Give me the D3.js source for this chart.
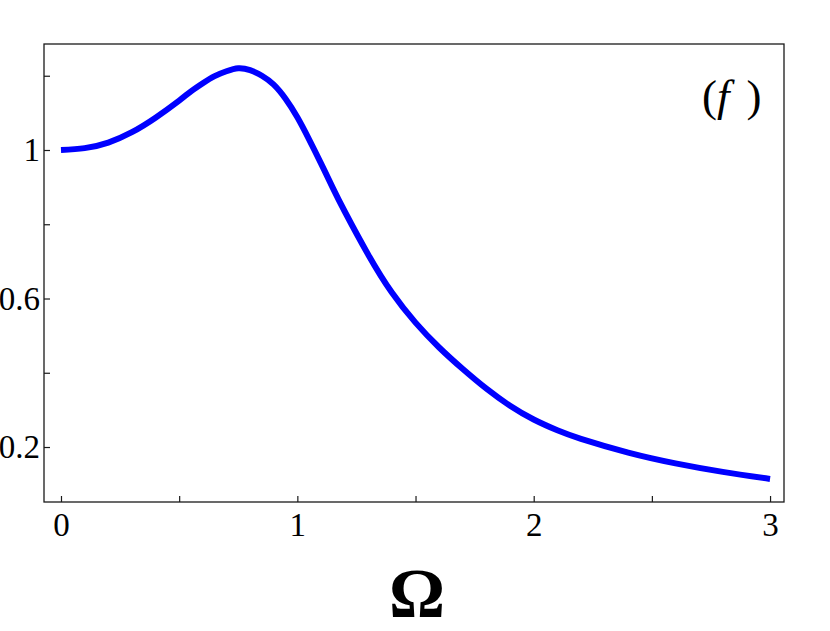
<!DOCTYPE html>
<html>
<head>
<meta charset="utf-8">
<script src="https://cdn.jsdelivr.net/npm/d3@7"></script>
<style>
  body { margin: 0; background: #fff; }
  svg { display: block; }
</style>
</head>
<body>
<svg id="chart" width="830" height="631"></svg>
<script>
// Data
const omega = [0, 0.1, 0.2, 0.3, 0.4, 0.5, 0.55, 0.6, 0.65, 0.7, 0.75, 0.8, 0.85, 0.9, 0.95, 1.0, 1.05, 1.1, 1.15, 1.2, 1.3, 1.4, 1.5, 1.6, 1.7, 1.8, 1.9, 2.0, 2.1, 2.2, 2.4, 2.6, 2.8, 3.0];
const response = [1.000, 1.005, 1.020, 1.048, 1.087, 1.133, 1.158, 1.180, 1.199, 1.212, 1.220, 1.215, 1.200, 1.176, 1.138, 1.088, 1.028, 0.964, 0.898, 0.835, 0.718, 0.616, 0.535, 0.468, 0.410, 0.357, 0.311, 0.274, 0.245, 0.222, 0.185, 0.156, 0.133, 0.114];
const xTicks = [0, 0.5, 1, 1.5, 2, 2.5, 3];
const xTickLabels = ["0", "", "1", "", "2", "", "3"];
const yTicks = [0.2, 0.4, 0.6, 0.8, 1.0, 1.2];
const yTickLabels = ["0.2", "", "0.6", "", "1", ""];
const xLabel = "Ω";
const panelLabel = "f";

const svg = d3.select("#chart");
const mLeft = 44, mRight = 784, mTop = 44, mBottom = 502;

const x = d3.scaleLinear().domain([-0.0719, 3.059]).range([mLeft, mRight]);
const y = d3.scaleLinear().domain([0.0519, 1.2855]).range([mBottom, mTop]);

const serif = "Liberation Serif, Times New Roman, serif";

// curve
const pts = omega.map((o, i) => [o, response[i]]);
svg.append("path")
  .datum(pts)
  .attr("fill", "none")
  .attr("stroke", "#0000ff")
  .attr("stroke-width", 6)
  .attr("d", d3.line().x(d => x(d[0])).y(d => y(d[1])).curve(d3.curveNatural));

// frame
svg.append("rect")
  .attr("x", mLeft).attr("y", mTop)
  .attr("width", mRight - mLeft).attr("height", mBottom - mTop)
  .attr("fill", "none").attr("stroke", "#1a1a1a").attr("stroke-width", 1.3);

// x axis
const xAxis = d3.axisBottom(x).tickValues(xTicks)
  .tickSize(-6).tickPadding(11)
  .tickFormat((d, i) => xTickLabels[i]);
const gx = svg.append("g").attr("transform", `translate(0,${mBottom})`).call(xAxis);
gx.select(".domain").remove();
gx.selectAll(".tick line").attr("stroke", "#1a1a1a").attr("stroke-width", 1.2);
gx.selectAll(".tick text").attr("font-family", serif).attr("font-size", 33).attr("fill", "#000");

// y axis
const yAxis = d3.axisLeft(y).tickValues(yTicks)
  .tickSize(-6).tickPadding(4)
  .tickFormat((d, i) => yTickLabels[i]);
const gy = svg.append("g").attr("transform", `translate(${mLeft},0)`).call(yAxis);
gy.select(".domain").remove();
gy.selectAll(".tick line").attr("stroke", "#1a1a1a").attr("stroke-width", 1.2);
gy.selectAll(".tick text").attr("font-family", serif).attr("font-size", 33).attr("fill", "#000");

// x label
svg.append("text")
  .attr("x", 417).attr("y", 617)
  .attr("text-anchor", "middle")
  .attr("font-family", serif).attr("font-weight", "bold")
  .attr("font-size", 70)
  .text(xLabel);

// panel label
const pl = svg.append("text")
  .attr("x", 702).attr("y", 111)
  .attr("font-family", serif).attr("font-size", 45);
pl.append("tspan").text("(");
pl.append("tspan").attr("font-style", "italic").text(panelLabel);
pl.append("tspan").attr("dx", 17).text(")");
</script>
</body>
</html>
